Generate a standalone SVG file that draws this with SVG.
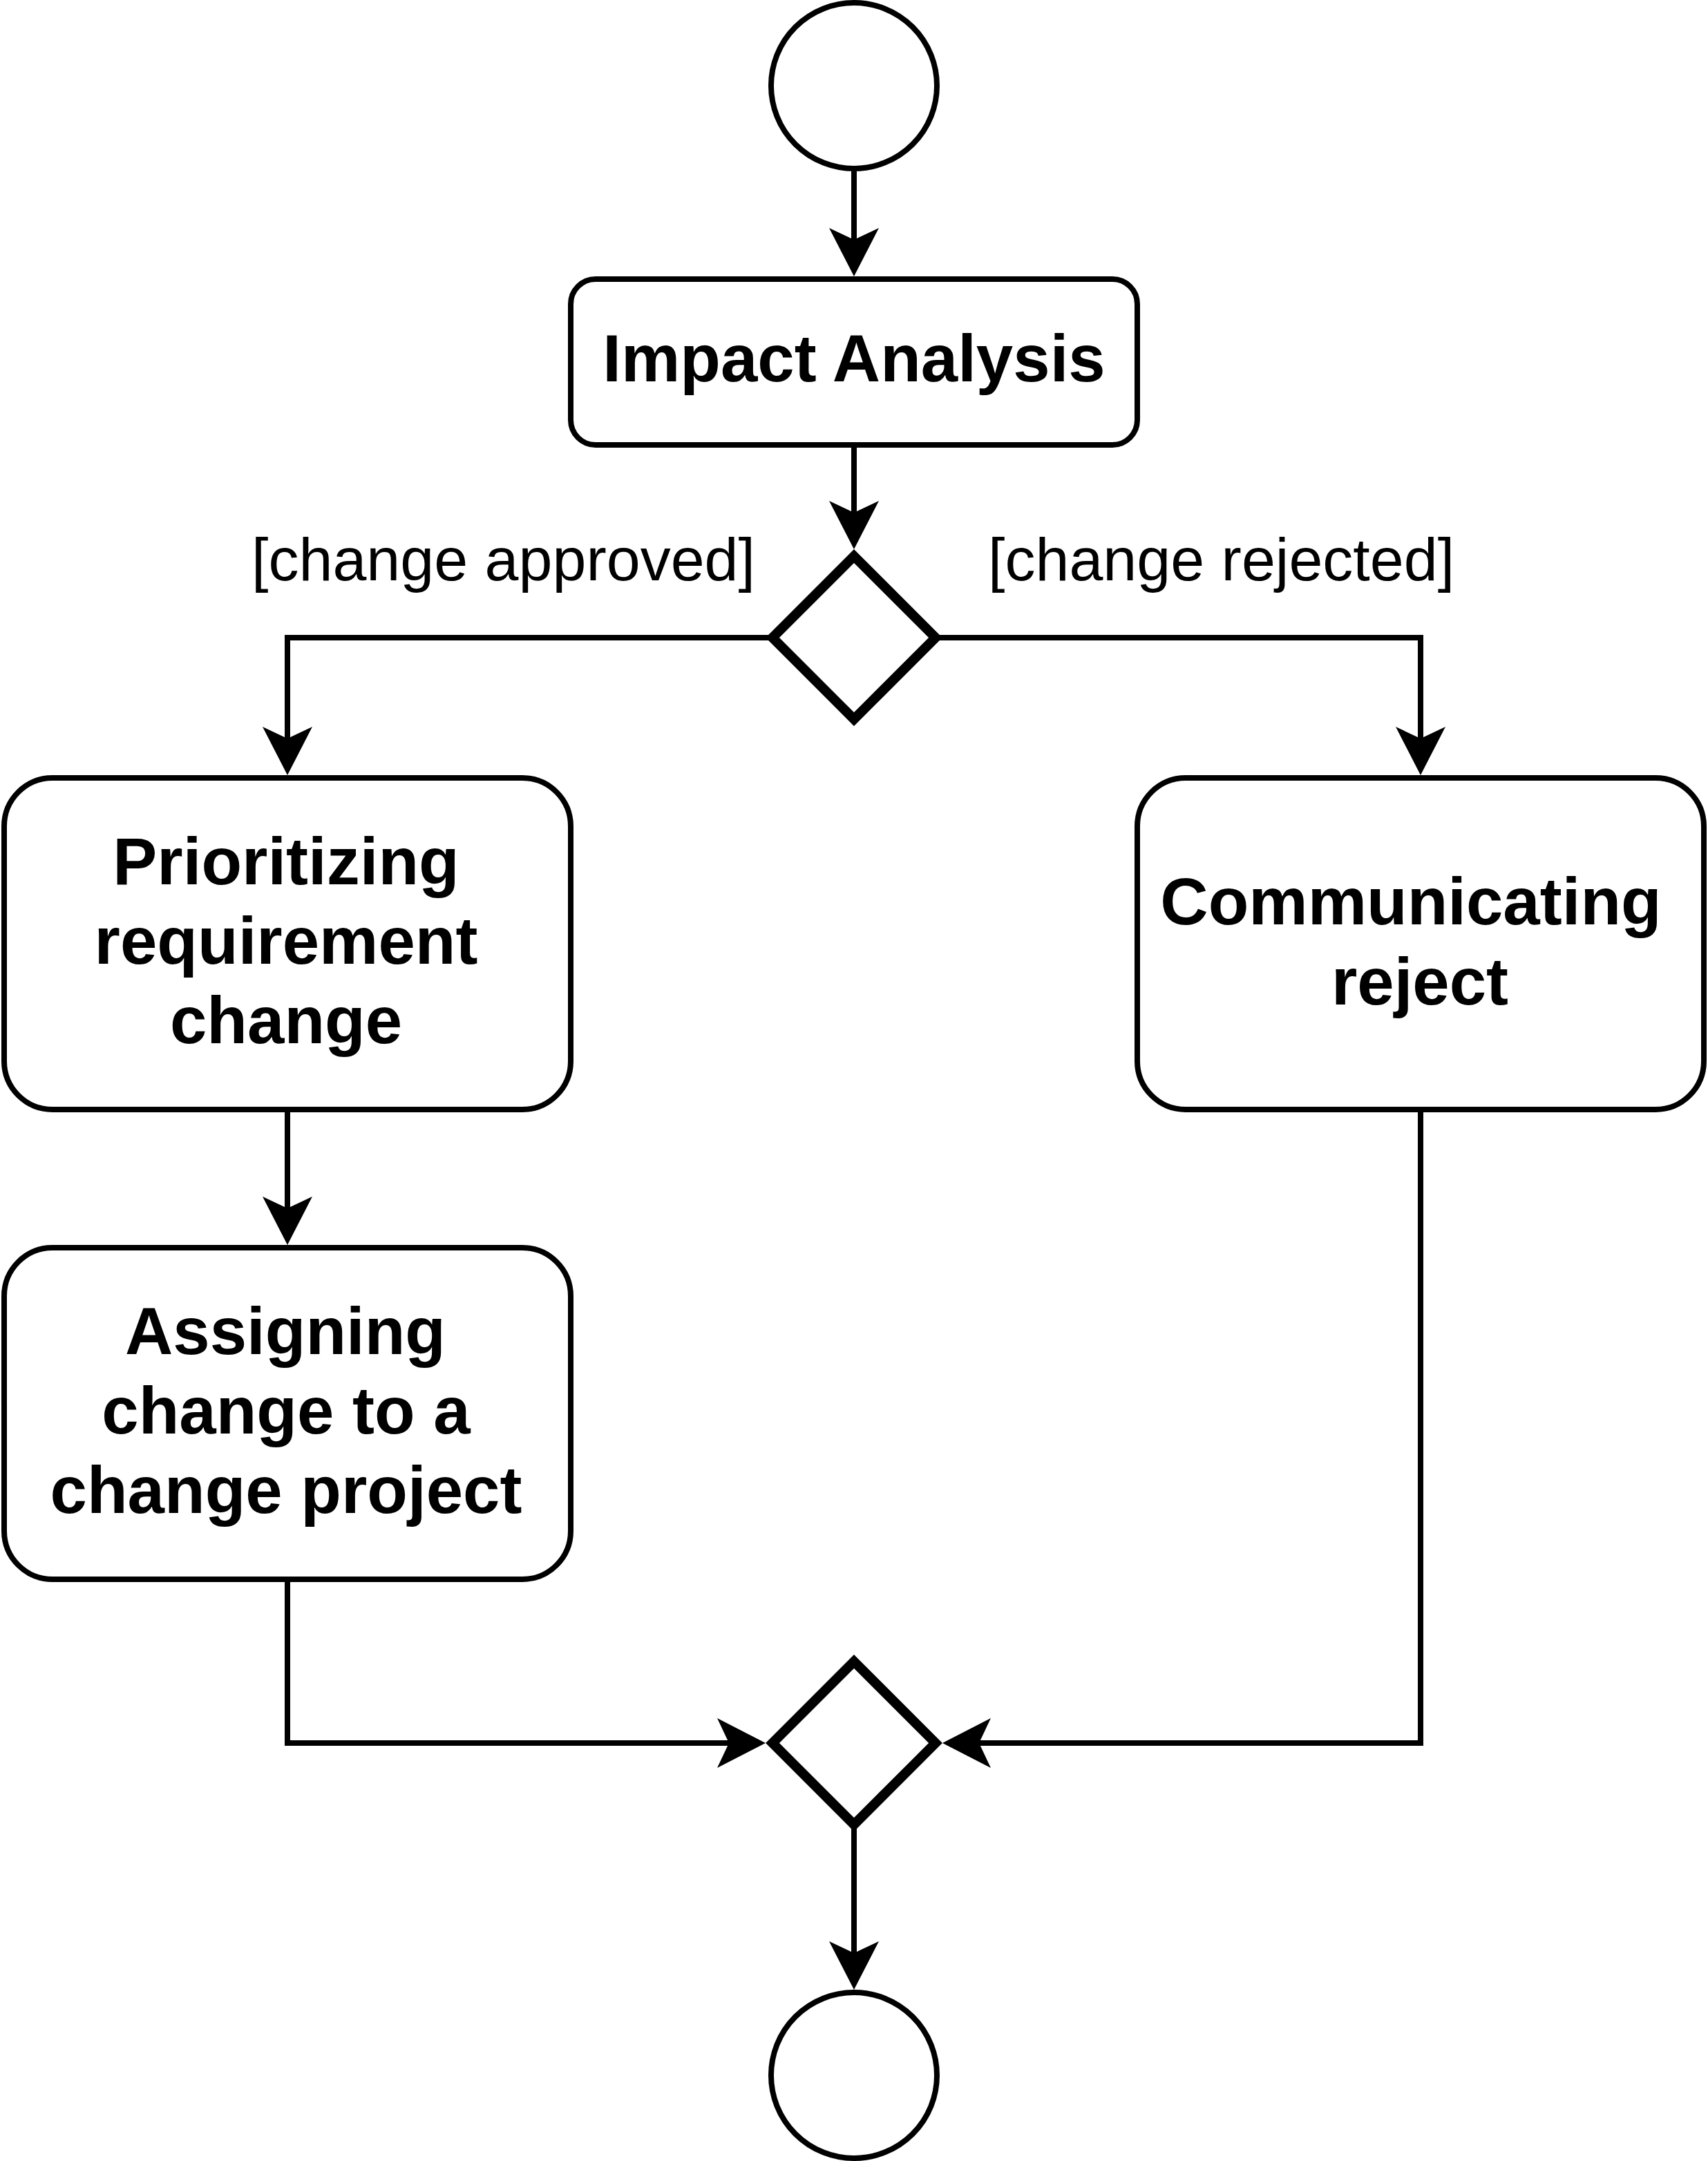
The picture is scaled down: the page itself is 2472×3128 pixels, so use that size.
<svg xmlns="http://www.w3.org/2000/svg" width="2472" height="3128" viewBox="0 0 2472 3128">
<style>
.node{fill:#ffffff;stroke:#000000;stroke-width:8}
.dec{fill:#ffffff;stroke:#000000;stroke-width:14;stroke-linejoin:miter}
.edge{fill:none;stroke:#000000;stroke-width:8;stroke-linejoin:miter}
.lbl{font-family:"Liberation Sans",Arial,Helvetica,sans-serif;font-size:96px;font-weight:bold;fill:#000000;text-anchor:middle}
.guard{font-family:"Liberation Sans",Arial,Helvetica,sans-serif;font-size:88px;fill:#000000}
</style>
<defs>
<marker id="arr" markerUnits="userSpaceOnUse" viewBox="0 -40 80 80" markerWidth="80" markerHeight="80" refX="17" refY="0" orient="auto">
<path d="M0,-36 L70,0 L0,36 L17,0 Z" fill="#000000"/>
</marker>
</defs>
<rect width="2472" height="3128" fill="#ffffff"/>
<g id="connectors">
<path class="edge" d="M1236,248 L1236,347" marker-end="url(#arr)"/>
<path class="edge" d="M1236,648 L1236,742" marker-end="url(#arr)"/>
<path class="edge" d="M1118,923 L416,923 L416,1069" marker-end="url(#arr)"/>
<path class="edge" d="M1354,923 L2056,923 L2056,1069" marker-end="url(#arr)"/>
<path class="edge" d="M416,1610 L416,1749" marker-end="url(#arr)"/>
<path class="edge" d="M416,2290 L416,2523 L1055,2523" marker-end="url(#arr)"/>
<path class="edge" d="M2056,1610 L2056,2523 L1417,2523" marker-end="url(#arr)"/>
<path class="edge" d="M1236,2641 L1236,2827" marker-end="url(#arr)"/>
</g>
<g id="start">
<circle class="node" cx="1236" cy="124" r="120"/>
</g>
<g id="impact">
<rect class="node" x="826" y="404" width="820" height="240" rx="36" ry="36"/>
<text class="lbl" x="1236" y="552">Impact Analysis</text>
</g>
<g id="decision">
<polygon class="dec" points="1236,805 1354,923 1236,1041 1118,923"/>
</g>
<g id="guard-approved">
<text class="guard" x="364" y="840">[change approved]</text>
</g>
<g id="guard-rejected">
<text class="guard" x="1430" y="840">[change rejected]</text>
</g>
<g id="prioritizing">
<rect class="node" x="6" y="1126" width="820" height="480" rx="70" ry="70"/>
<text class="lbl" x="414" y="1280">Prioritizing</text>
<text class="lbl" x="414" y="1395">requirement</text>
<text class="lbl" x="414" y="1510">change</text>
</g>
<g id="communicating">
<rect class="node" x="1646" y="1126" width="820" height="480" rx="70" ry="70"/>
<text class="lbl" x="2042" y="1338">Communicating</text>
<text class="lbl" x="2055" y="1454">reject</text>
</g>
<g id="assigning">
<rect class="node" x="6" y="1806" width="820" height="480" rx="70" ry="70"/>
<text class="lbl" x="413" y="1960">Assigning</text>
<text class="lbl" x="414" y="2075">change to a</text>
<text class="lbl" x="414" y="2190">change project</text>
</g>
<g id="merge">
<polygon class="dec" points="1236,2405 1354,2523 1236,2641 1118,2523"/>
</g>
<g id="end">
<circle class="node" cx="1236" cy="3004" r="120"/>
</g>
</svg>
